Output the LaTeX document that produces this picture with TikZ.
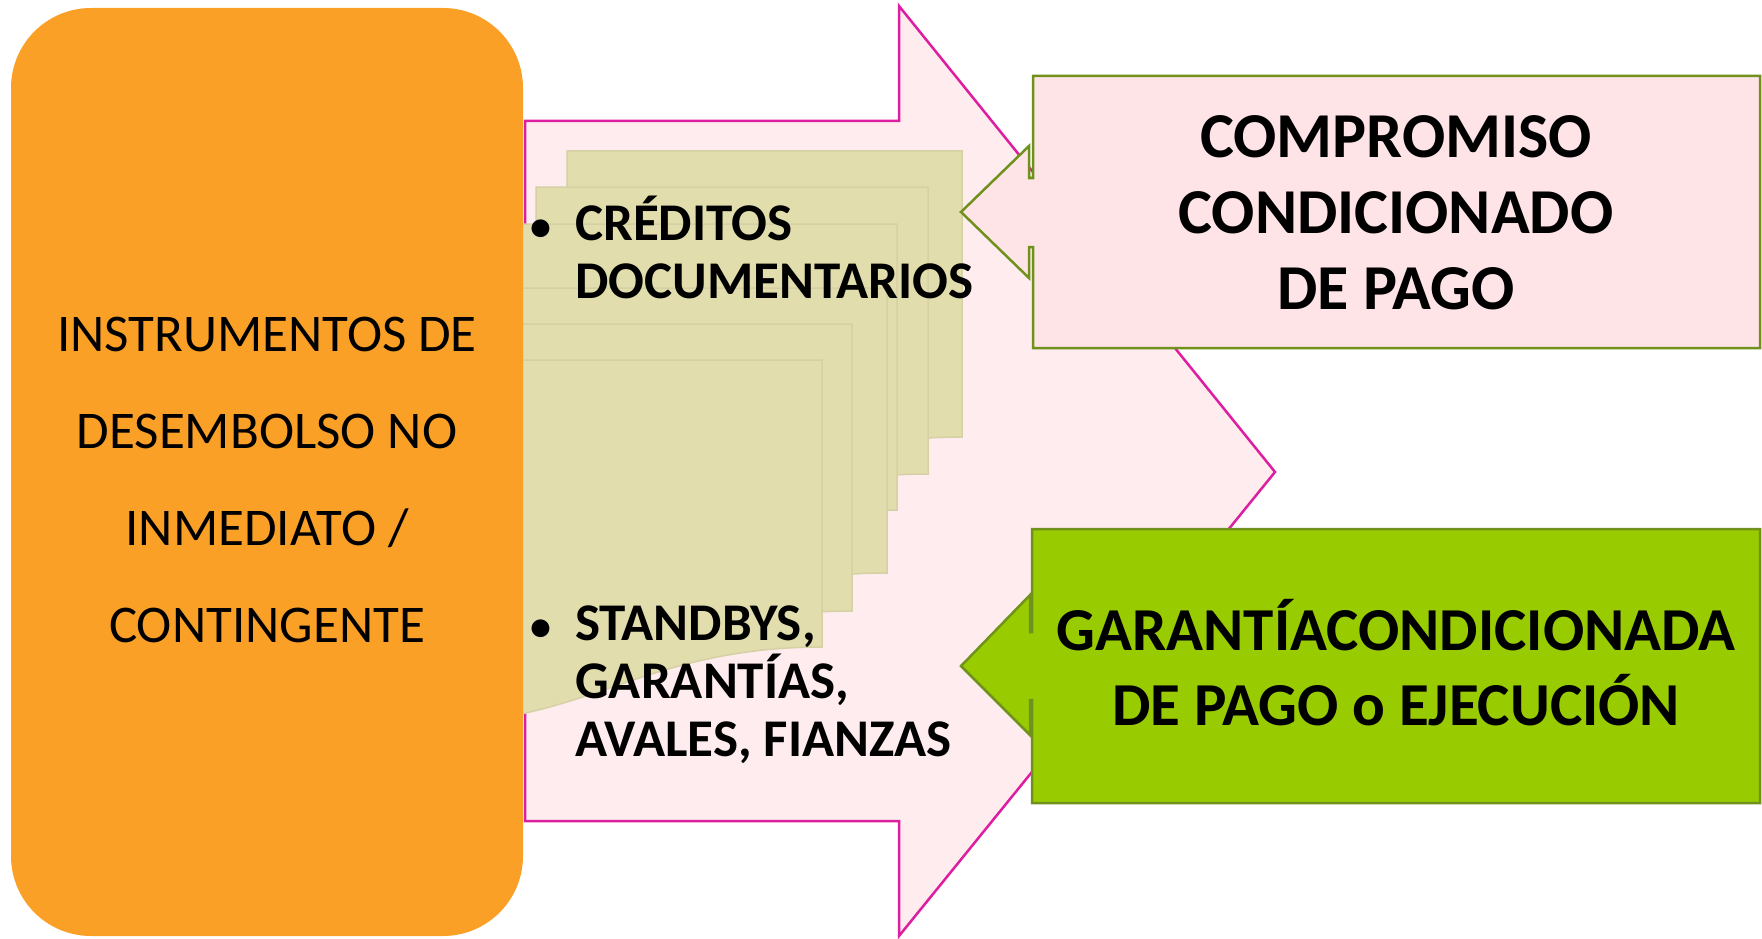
\documentclass[tikz,border=0pt]{standalone}
\usepackage{fontspec}
\setmainfont{Carlito}
\usetikzlibrary{positioning}
\definecolor{srcorange}{RGB}{251,160,38}
\definecolor{arrowfill}{RGB}{254,236,238}
\definecolor{arrowline}{RGB}{221,30,160}
\definecolor{boxpink}{RGB}{254,228,230}
\definecolor{boxline}{RGB}{112,146,28}
\definecolor{boxgreen}{RGB}{153,204,0}
\definecolor{docfill}{RGB}{226,221,173}
\definecolor{docline}{RGB}{214,209,165}

\begin{document}
\begin{tikzpicture}[x=1pt,y=-1pt,
    big/.style={font=\bfseries\fontsize{61}{75}\selectfont, align=center},
    item/.style={font=\bfseries\fontsize{53}{58}\selectfont, align=left, anchor=west, inner sep=0pt},
    page/.style={fill=docfill, draw=docline, line width=1.5pt},
    callout/.style={draw=boxline, line width=2.5pt}]
        \useasboundingbox (0,0) rectangle (1762,939);

        \filldraw[fill=arrowfill, draw=arrowline, line width=2.5pt] (525,121) -- (899,121) -- (899,6) -- (1275,472) -- (899,936) -- (899,821) -- (525,821) -- cycle;

        \foreach \xl/\yt/\xr/\yb in {567/151/962/437, 536/187/928/474, 505/224/897/510, 494/288/887/573, 459/324/852/611, 429/360/822/647}
            \filldraw[page] (\xl,\yt) -- (\xr,\yt) -- (\xr,\yb) .. controls (\xr-180,\yb) and (\xl+150,\yb+80) .. (\xl,\yb+75) -- cycle;

        \filldraw[callout, fill=boxpink] (1033,76) -- (1760,76) -- (1760,348) -- (1033,348) -- (1033,247) -- (1029,247) -- (1029,278) -- (961,212) -- (1029,146) -- (1029,178) -- (1033,178) -- cycle;
        \filldraw[callout, fill=boxgreen] (1032,529) -- (1760,529) -- (1760,803) -- (1032,803) -- (1032,700) -- (1030,700) -- (1030,735) -- (961,666) -- (1030,595) -- (1030,632) -- (1032,632) -- cycle;

        \node[fill=srcorange, rounded corners=80pt, minimum width=512pt, minimum height=928pt, inner sep=0pt] (src) at (267,472) {};
        \node[font=\fontsize{53}{97}\selectfont, align=center] (srctext) at (267,480) {INSTRUMENTOS DE\\DESEMBOLSO NO\\INMEDIATO /\\CONTINGENTE};

        \node[big, font=\bfseries\fontsize{64}{76}\selectfont] (cmp) at (1396,213) {COMPROMISO\\CONDICIONADO\\DE PAGO};
        \node[big] (gar) at (1396,663) {GARANTÍACONDICIONADA\\DE PAGO o EJECUCIÓN};

        \node[item] (cred) at (575,247) {\llap{\fontsize{42}{42}\selectfont\textbullet\hspace{24pt}}CRÉDITOS\\DOCUMENTARIOS};
        \node[item] (stand) at (575,685) {\llap{\fontsize{42}{42}\selectfont\textbullet\hspace{24pt}}STANDBYS,\\GARANTÍAS,\\AVALES, FIANZAS};

    \end{tikzpicture}
\end{document}
